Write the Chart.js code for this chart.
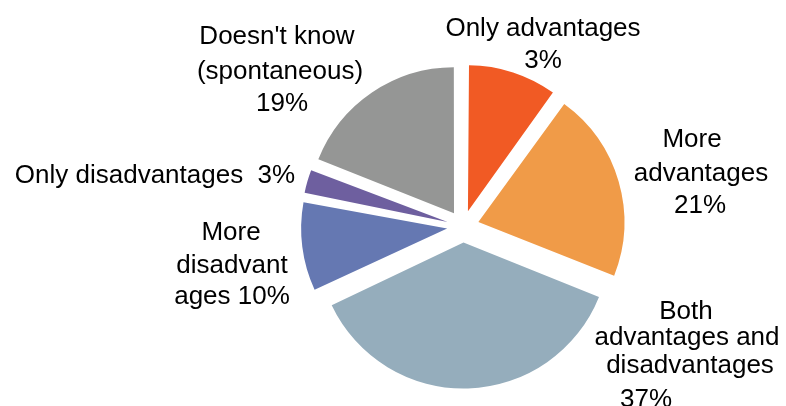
<!DOCTYPE html>
<html>
<head>
<meta charset="utf-8">
<script src="https://cdn.jsdelivr.net/npm/chart.js@4.4.0/dist/chart.umd.min.js"></script>
<style>
  html, body { margin: 0; padding: 0; background: #fff; }
</style>
</head>
<body>
<canvas id="pie" width="786" height="406"></canvas>
<script>
// slice sizes as drawn; the printed percentages are kept separately
const categories = ['Only advantages', 'More advantages', 'Both advantages and disadvantages',
  'More disadvantages', 'Only disadvantages', "Doesn't know (spontaneous)"];
const sliceValues = [10, 21, 37, 10, 3, 19];
const percentLabels = ['3%', '21%', '37%', '10%', '3%', '19%'];
const COLORS = ['#F15A24', '#F09B48', '#95ADBC', '#6578B2', '#6E5F9F', '#959695'];

const RADIUS = 146;
const EXPLODE = 16; // px each slice is pulled out
const FONT = '26px "Liberation Sans", Arial, sans-serif';

// label lines: [text, dx, baseline dy] relative to the pie centre
const labelLines = [
  [['Only advantages', 80, -191], [percentLabels[0], 80, -159]],
  [['More', 229, -80], ['advantages', 238, -46], [percentLabels[1], 237, -14]],
  [['Both', 223, 92], ['advantages and', 224, 118], ['disadvantages', 227, 146], [percentLabels[2], 183, 180]],
  [['More', -232, 13], ['disadvant', -231, 46], ['ages ' + percentLabels[3], -231, 77]],
  [['Only disadvantages  ' + percentLabels[4], -308, -44]],
  [["Doesn't know", -186, -183], ['(spontaneous)', -183, -148], [percentLabels[5], -181, -116]],
];

// Chart.js grows small exploded slices outward; keep every slice at the same radius
const evenRadius = {
  id: 'evenRadius',
  afterDatasetUpdate(chart, args) {
    const meta = args.meta;
    const r = meta.controller.outerRadius;
    meta.data.forEach((arc) => {
      const circ = arc.endAngle - arc.startAngle;
      const fix = 1 - Math.sin(Math.min(Math.PI, circ));
      arc.outerRadius = r - EXPLODE * fix;
    });
  },
};

const sliceLabels = {
  id: 'sliceLabels',
  afterDraw(chart) {
    const arc = chart.getDatasetMeta(0).data[0];
    if (!arc) return;
    const ctx = chart.ctx;
    ctx.save();
    ctx.font = FONT;
    ctx.fillStyle = '#000';
    ctx.textAlign = 'center';
    ctx.textBaseline = 'alphabetic';
    labelLines.forEach((lines) => {
      lines.forEach(([text, dx, dy]) => ctx.fillText(text, arc.x + dx, arc.y + dy));
    });
    ctx.restore();
  },
};

new Chart(document.getElementById('pie'), {
  type: 'pie',
  data: {
    labels: categories,
    datasets: [{
      data: sliceValues,
      backgroundColor: COLORS,
      borderWidth: 0,
      offset: EXPLODE * 4,
      hoverOffset: 0,
    }],
  },
  options: {
    responsive: false,
    animation: false,
    radius: RADIUS,
    layout: { padding: { left: 300, right: 160, top: 60, bottom: 13 } },
    plugins: {
      legend: { display: false },
      tooltip: { enabled: false },
    },
    events: [],
  },
  plugins: [evenRadius, sliceLabels],
});
</script>
</body>
</html>
